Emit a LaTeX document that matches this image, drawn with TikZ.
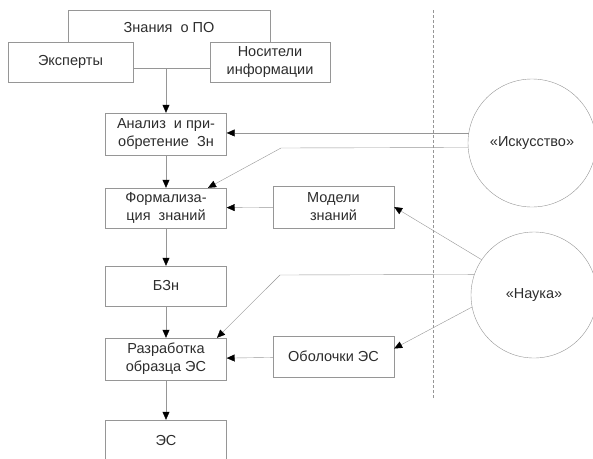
\documentclass[tikz,border=0pt]{standalone}
\usepackage{fontspec}
\setmainfont{Liberation Sans}
\usetikzlibrary{positioning, arrows.meta, calc}
\definecolor{linegray}{RGB}{150,150,150}
\definecolor{textgray}{RGB}{45,45,45}

\begin{document}
\begin{tikzpicture}[
  x=1pt, y=-1pt,
  box/.style={draw=linegray, fill=white, minimum width=121pt, minimum height=41pt, inner sep=1pt, font=\fontsize{14.5}{18}\selectfont, text=textgray, align=center},
  circ/.style={draw=linegray, circle, inner sep=0pt, font=\fontsize{14.5}{18}\selectfont, text=textgray},
  arrow/.style={-{Triangle[length=8pt, width=7pt, color=black]}, linegray, thin},
  sep/.style={linegray, thin, dash pattern=on 3pt off 2pt}
]
  \useasboundingbox (0,0) rectangle (593,458);

  % knowledge sources
  \node[box, minimum width=202pt, minimum height=58pt] (zn) at (169,39) {};
  \node[font=\fontsize{14.5}{18}\selectfont, text=textgray] (zntxt) at (169,28) {Знания~ о ПО};
  \node[box, minimum width=125pt, minimum height=40pt] (eks) at (70.5,62) {Эксперты};
  \node[box, minimum width=120pt, minimum height=40pt] (nos) at (270,62) {Носители\\информации};

  % main chain
  \node[box, minimum height=42pt] (ana) at (166,134) {Анализ~ и при-\\обретение~ Зн};
  \node[box, minimum height=40pt] (form) at (166,208) {Формализа-\\ция~ знаний};
  \node[box, minimum height=40pt] (bzn) at (166,286) {БЗн};
  \node[box, minimum height=42pt] (raz) at (166,359) {Разработка\\образца ЭС};
  \node[box, minimum height=40pt] (es) at (166,440) {ЭС};

  % tools
  \node[box, minimum height=42pt] (mod) at (333.5,207) {Модели\\знаний};
  \node[box, minimum height=41pt] (obo) at (333.5,356.5) {Оболочки ЭС};

  % separator
  \coordinate (dtop) at (433,10);
  \coordinate (dbot) at (433,398);
  \draw[sep] (dtop) -- (dbot);

  % art and science
  \node[circ, minimum size=128pt] (isk) at (532,143) {«Искусство»};
  \node[circ, minimum size=126pt] (nau) at (534,295) {«Наука»};

  \draw[arrow] (ana.north |- zn.south) -- (ana.north);
  \draw[arrow] (ana) -- (form);
  \draw[arrow] (form) -- (bzn);
  \draw[arrow] (bzn) -- (raz);
  \draw[arrow] (raz) -- (es);
  \draw[arrow] (mod) -- (form);
  \draw[arrow] (obo) -- (raz);

  \coordinate (bendA) at (281,148);
  \coordinate (bendB) at (280,275);
  \draw[arrow] (isk.171) -- (isk.171 -| ana.east);
  \draw[arrow] (isk.184.5) -- (bendA) -- ([xshift=42pt]form.north);
  \draw[arrow] (nau.146) -- (mod.east);
  \draw[arrow] (nau.161.5) -- (bendB) -- ([xshift=51pt]raz.north);
  \draw[arrow] (nau.191) -- ([yshift=8pt]obo.east);
\end{tikzpicture}
\end{document}
